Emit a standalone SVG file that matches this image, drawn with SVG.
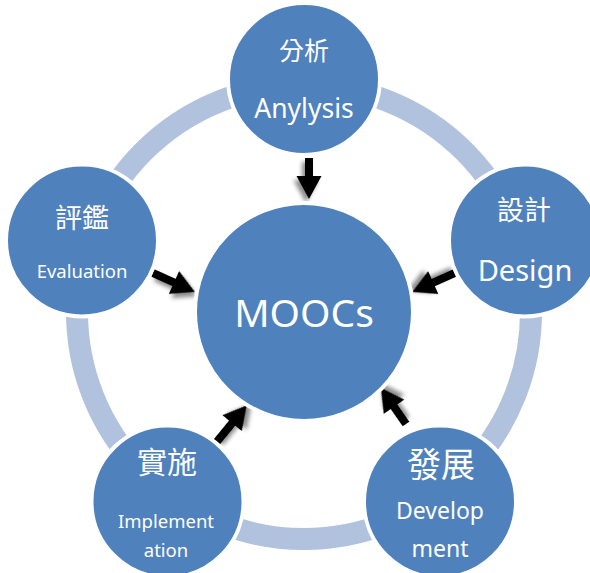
<svg xmlns="http://www.w3.org/2000/svg" width="590" height="573" viewBox="0 0 590 573">
<style>
.node{fill:#4F81BD;stroke:#FFFFFF;stroke-width:4}
.t{fill:#FFFFFF;font-family:"Noto Sans","Noto Sans CJK TC",sans-serif;text-anchor:middle}
.arrow{fill:#000000;filter:url(#shadow)}
</style>
<defs>
<filter id="shadow" x="-50%" y="-50%" width="200%" height="200%">
<feGaussianBlur in="SourceAlpha" stdDeviation="2"/>
<feOffset dx="4" dy="3" result="b"/>
<feFlood flood-color="#000000" flood-opacity="0.45"/>
<feComposite in2="b" operator="in" result="s"/>
<feMerge><feMergeNode in="s"/><feMergeNode in="SourceGraphic"/></feMerge>
</filter>
</defs>
<rect width="590" height="573" fill="#FFFFFF"/>
<circle id="ring" cx="304" cy="312" r="227" fill="none" stroke="#B0C2DD" stroke-width="22"/>
<g id="connectors">
<path class="arrow" transform="translate(309,158) rotate(90)" d="M0,-4 L18,-4 L18,-12.5 L41,0 L18,12.5 L18,4 L0,4 Z"/>
<path class="arrow" transform="translate(153,273) rotate(24.3)" d="M0,-4 L23,-4 L23,-12.5 L46,0 L23,12.5 L23,4 L0,4 Z"/>
<path class="arrow" transform="translate(457,272) rotate(156)" d="M0,-4 L26,-4 L26,-12.5 L49,0 L26,12.5 L26,4 L0,4 Z"/>
<path class="arrow" transform="translate(215,444) rotate(-50.6)" d="M0,-4 L27,-4 L27,-12.5 L50,0 L27,12.5 L27,4 L0,4 Z"/>
<path class="arrow" transform="translate(406,424) rotate(235.2)" d="M0,-4 L21,-4 L21,-12.5 L44,0 L21,12.5 L21,4 L0,4 Z"/>
</g>
<g id="node-moocs">
<circle class="node" cx="304" cy="312" r="109"/>
<text class="t" x="304" y="327" font-size="39">MOOCs</text>
</g>
<g id="node-analysis">
<circle class="node" cx="304" cy="79" r="76"/>
<text class="t" x="304" y="60" font-size="25">分析</text>
<text class="t" x="304" y="118" font-size="26.5">Anylysis</text>
</g>
<g id="node-design">
<circle class="node" cx="525" cy="240.5" r="76"/>
<text class="t" x="524" y="220" font-size="27">設計</text>
<text class="t" x="525" y="281" font-size="29">Design</text>
</g>
<g id="node-evaluation">
<circle class="node" cx="82" cy="240.5" r="76"/>
<text class="t" x="82" y="227.5" font-size="27">評鑑</text>
<text class="t" x="82" y="278" font-size="18.5">Evaluation</text>
</g>
<g id="node-implementation">
<circle class="node" cx="167.5" cy="501.5" r="76"/>
<text class="t" x="167" y="473" font-size="30">實施</text>
<text class="t" x="166" y="528" font-size="18.5">Implement</text>
<text class="t" x="166" y="556.5" font-size="18.5">ation</text>
</g>
<g id="node-development">
<circle class="node" cx="440" cy="501.5" r="76"/>
<text class="t" x="441" y="477" font-size="34">發展</text>
<text class="t" x="440" y="519" font-size="23">Develop</text>
<text class="t" x="440" y="556.5" font-size="23">ment</text>
</g>
</svg>
